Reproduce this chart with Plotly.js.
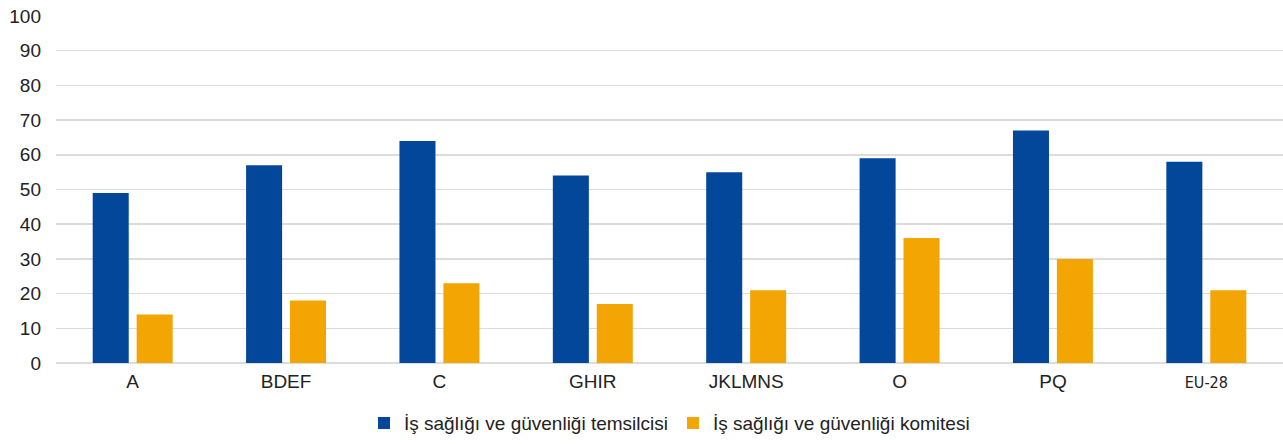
<!DOCTYPE html>
<html>
<head>
<meta charset="utf-8">
<script src="https://cdn.plot.ly/plotly-3.0.1.min.js"></script>
<style>
  html, body { margin: 0; padding: 0; background: #fff; }
  #chart { width: 1283px; height: 444px; }
</style>
</head>
<body>
<div id="chart"></div>
<script>
// Sector groups (NACE) and EU average
const categories = ["A", "BDEF", "C", "GHIR", "JKLMNS", "O", "PQ", "EU-28"];
const tickLabels = ["A", "BDEF", "C", "GHIR", "JKLMNS", "O", "PQ",
  "<span style='font-family:\"Liberation Sans Narrow\",\"DejaVu Sans Condensed\",sans-serif;font-size:16px'>EU-28</span>"];

// Share of establishments (%)
const representativeValues = [49, 57, 64, 54, 55, 59, 67, 58];
const committeeValues = [14, 18, 23, 17, 21, 36, 30, 21];

const seriesNames = [
  "İş sağlığı ve güvenliği temsilcisi",
  "İş sağlığı ve güvenliği komitesi"
];

const yTicks = [0, 10, 20, 30, 40, 50, 60, 70, 80, 90, 100];

const data = [
  {
    type: "bar",
    name: seriesNames[0],
    x: categories,
    y: representativeValues,
    marker: { color: "#03479A" },
    hoverinfo: "x+y+name"
  },
  {
    type: "bar",
    name: seriesNames[1],
    x: categories,
    y: committeeValues,
    marker: { color: "#F3A503" },
    hoverinfo: "x+y+name"
  }
];

const layout = {
  width: 1283,
  height: 444,
  margin: { l: 56, r: 0, t: 16, b: 81 },
  paper_bgcolor: "#ffffff",
  plot_bgcolor: "#ffffff",
  font: { family: "Liberation Sans, Arial, sans-serif", size: 19, color: "#222" },
  barmode: "group",
  bargap: 0.427,
  bargroupgap: 0.18,
  xaxis: {
    type: "category",
    tickvals: categories,
    ticktext: tickLabels,
    showgrid: false,
    showline: false,
    zeroline: false,
    ticks: "",
    ticklabelstandoff: 5,
    tickfont: { size: 19, color: "#222" }
  },
  yaxis: {
    range: [0, 100],
    tickvals: yTicks,
    showgrid: true,
    gridcolor: "#dcdcdc",
    gridwidth: 1.5,
    zeroline: true,
    zerolinecolor: "#dcdcdc",
    zerolinewidth: 1.5,
    showline: false,
    ticks: "",
    ticklabelstandoff: 14,
    tickfont: { size: 19, color: "#222" }
  },
  showlegend: true,
  legend: {
    orientation: "h",
    x: 0.5,
    xanchor: "center",
    y: -0.228,
    yanchor: "bottom",
    font: { size: 19, color: "#222" },
    itemwidth: 30,
    tracegroupgap: 0
  }
};

Plotly.newPlot("chart", data, layout, { displayModeBar: false, staticPlot: true });
</script>
</body>
</html>
